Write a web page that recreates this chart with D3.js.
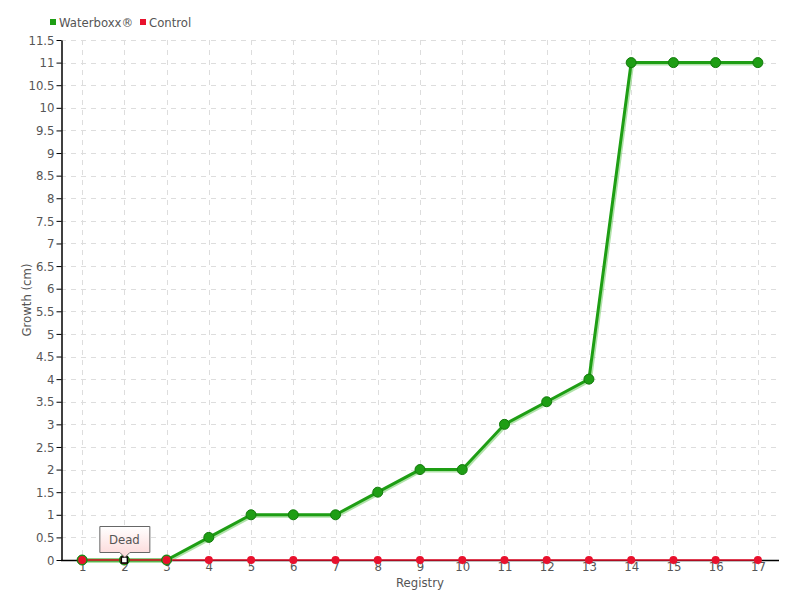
<!DOCTYPE html>
<html>
<head>
<meta charset="utf-8">
<script src="https://cdn.jsdelivr.net/npm/d3@7"></script>
<style>
  body { margin: 0; background: #fff; }
  text { font-family: "Liberation Sans Narrow", "DejaVu Sans Condensed", sans-serif; fill: #555; }
</style>
</head>
<body>
<svg id="chart" width="800" height="600"></svg>
<script>
var registry = ["1","2","3","4","5","6","7","8","9","10","11","12","13","14","15","16","17"];
var waterboxx = [0, 0, 0, 0.5, 1, 1, 1, 1.5, 2, 2, 3, 3.5, 4, 11, 11, 11, 11];
var control = [0, 0, 0, 0, 0, 0, 0, 0, 0, 0, 0, 0, 0, 0, 0, 0, 0];
var yTicks = d3.range(0, 11.51, 0.5);
var deadIndex = 1;

var svg = d3.select("#chart");
var plotLeft = 61, plotRight = 779, plotTop = 40, plotBottom = 560;

var x = d3.scalePoint().domain(registry).range([plotLeft, plotRight]).padding(0.5);
var y = d3.scaleLinear().domain([0, 11.5]).range([plotBottom, plotTop]);

// grid
svg.append("g").selectAll("line").data(yTicks.slice(1)).enter().append("line")
  .attr("x1", plotLeft).attr("x2", plotRight)
  .attr("y1", function(d){ return Math.round(y(d)) + 0.5 }).attr("y2", function(d){ return Math.round(y(d)) + 0.5 })
  .attr("stroke", "#ddd").attr("stroke-dasharray", "5,5");
svg.append("g").selectAll("line").data(registry).enter().append("line")
  .attr("x1", function(d){ return Math.round(x(d)) + 0.5 }).attr("x2", function(d){ return Math.round(x(d)) + 0.5 })
  .attr("y1", plotTop).attr("y2", plotBottom)
  .attr("stroke", "#ddd").attr("stroke-dasharray", "5,5");

// axes
var yAxis = svg.append("g").attr("transform", "translate(" + (plotLeft + 0.5) + ",0)")
  .call(d3.axisLeft(y).tickValues(yTicks).tickSize(5).tickSizeOuter(0)
    .tickFormat(function(d){ return d3.format("")(d) }));
yAxis.select(".domain").attr("stroke", "#000").attr("stroke-width", 1.5);
yAxis.selectAll(".tick line").attr("stroke", "#000");
yAxis.selectAll("text").style("font-size", "13px").attr("fill", "#555").attr("dx", "1");

var xAxis = svg.append("g").attr("transform", "translate(0," + (plotBottom + 0.5) + ")")
  .call(d3.axisBottom(x).tickSize(4).tickSizeOuter(0));
xAxis.select(".domain").attr("stroke", "#000").attr("stroke-width", 1.5)
  .attr("d", "M" + plotLeft + ",0H" + plotRight);
xAxis.selectAll(".tick line").attr("stroke", "#999");
xAxis.selectAll("text").style("font-size", "13px").attr("fill", "#555").attr("y", 3).attr("dy", "0.6em");

svg.append("text").attr("x", (plotLeft + plotRight) / 2).attr("y", 587).attr("text-anchor", "middle")
  .style("font-size", "13px").text("Registry");
svg.append("text").attr("transform", "translate(31," + ((plotTop + plotBottom) / 2) + ") rotate(-90)")
  .attr("text-anchor", "middle").style("font-size", "13px").text("Growth (cm)");

// lines
var line = d3.line().x(function(d, i){ return x(registry[i]) }).y(function(d){ return y(d) });
svg.append("path").datum(waterboxx).attr("d", line).attr("fill", "none")
  .attr("stroke", "#7ccf6f").attr("stroke-width", 4).attr("transform", "translate(1,1)").attr("opacity", 0.6);
svg.append("path").datum(waterboxx).attr("d", line).attr("fill", "none")
  .attr("stroke", "#1e9e14").attr("stroke-width", 3);
svg.append("path").datum(control).attr("d", line).attr("fill", "none")
  .attr("stroke", "#e8112d").attr("stroke-width", 1.5);

svg.append("g").selectAll("circle").data(waterboxx).enter().append("circle")
  .attr("cx", function(d, i){ return x(registry[i]) }).attr("cy", function(d){ return y(d) })
  .attr("r", 5).attr("fill", "#1e9e14").attr("stroke", "#137a0c").attr("stroke-width", 1);
svg.append("g").selectAll("circle").data(control).enter().append("circle")
  .attr("cx", function(d, i){ return x(registry[i]) }).attr("cy", function(d){ return y(d) })
  .attr("r", 4).attr("fill", "#e8112d");

// hover marker + tooltip
var dx = x(registry[deadIndex]), dy = y(waterboxx[deadIndex]);
svg.append("rect").attr("x", dx - 3).attr("y", dy - 3).attr("width", 6).attr("height", 6)
  .attr("fill", "#fff").attr("stroke", "#000").attr("stroke-width", 1.5);
var grad = svg.append("defs").append("linearGradient").attr("id", "tip").attr("x1", 0).attr("y1", 0).attr("x2", 0).attr("y2", 1);
grad.append("stop").attr("offset", "0%").attr("stop-color", "#fff");
grad.append("stop").attr("offset", "100%").attr("stop-color", "#fcd6d6");
var tw = 50, th = 26, tx = dx - 25, ty = dy - 34;
svg.append("path")
  .attr("d", "M" + tx + "," + ty + "h" + tw + "v" + th + "h" + (-(tw / 2 - 5)) + "l-5,5l-5,-5h" + (-(tw / 2 - 5)) + "z")
  .attr("transform", "translate(0.5,0.5)")
  .attr("fill", "url(#tip)").attr("stroke", "#666");
svg.append("text").attr("x", dx).attr("y", ty + 18).attr("text-anchor", "middle")
  .style("font-size", "13px").text("Dead");

// legend
var legend = [["Waterboxx®", "#1e9e14", 50], ["Control", "#e8112d", 140]];
legend.forEach(function(l){
  svg.append("rect").attr("x", l[2]).attr("y", 19).attr("width", 6).attr("height", 6).attr("fill", l[1]);
  svg.append("text").attr("x", l[2] + 9).attr("y", 27).style("font-size", "13px").text(l[0]);
});
</script>
</body>
</html>
